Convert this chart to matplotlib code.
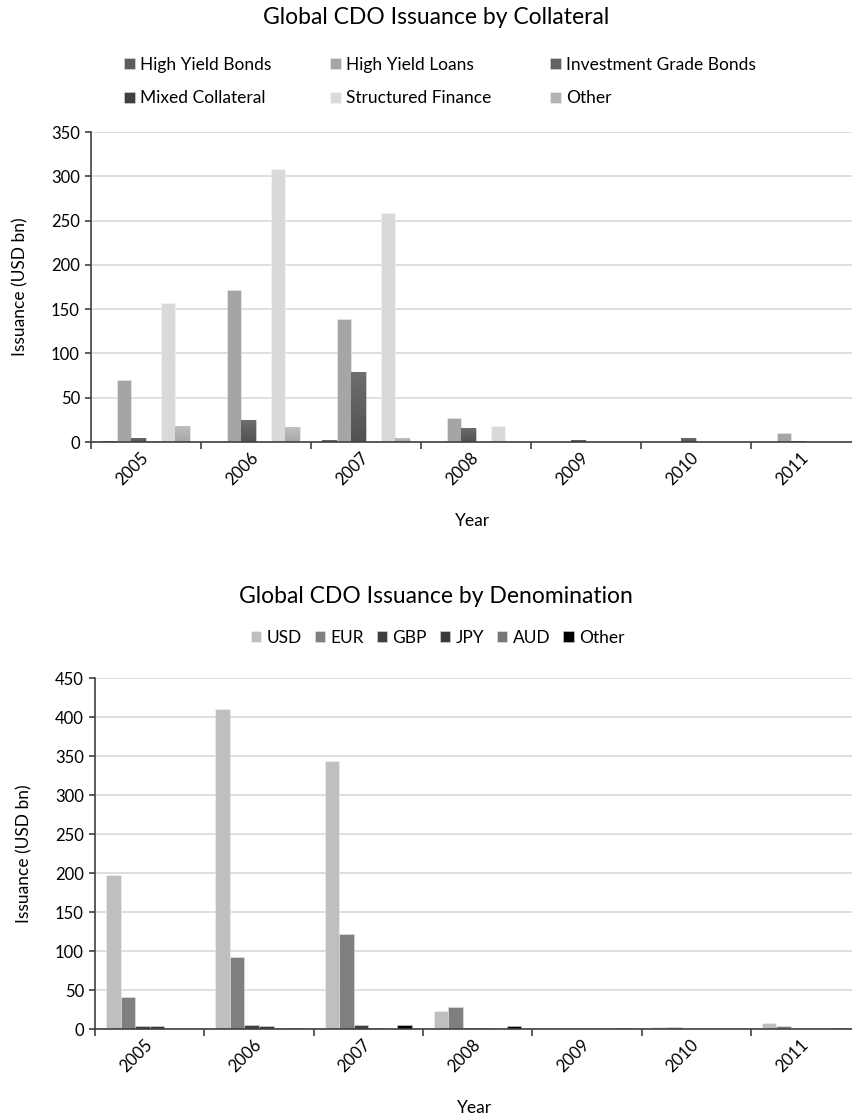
import numpy as np
import matplotlib
matplotlib.use("Agg")
import matplotlib.pyplot as plt
from matplotlib.colors import LinearSegmentedColormap
from matplotlib.ticker import FixedLocator, NullFormatter
from matplotlib.transforms import ScaledTranslation

plt.rcParams['font.family'] = ['Lato', 'DejaVu Sans']

years = ['2005', '2006', '2007', '2008', '2009', '2010', '2011']

# issuance by collateral type (USD bn)
collateral_names = ['High Yield Bonds', 'High Yield Loans', 'Investment Grade Bonds',
                    'Mixed Collateral', 'Structured Finance', 'Other']
high_yield_bonds = [1, 0.5, 2, 0, 0, 0, 0]
high_yield_loans = [70, 172, 139, 27, 1.5, 0.5, 10]
inv_grade_bonds = [5, 25, 79, 16, 2.5, 4.5, 1.5]
mixed_collateral = [1, 0, 0, 0, 0, 0, 0]
structured_finance = [157, 308, 259, 18.5, 0, 0.5, 0.5]
other_collateral = [18.5, 16.5, 4, 0, 0, 0, 0]

# issuance by currency of denomination (USD bn)
currency_names = ['USD', 'EUR', 'GBP', 'JPY', 'AUD', 'Other']
usd = [198, 411, 344, 24, 1.5, 3, 8]
eur = [41, 92, 122, 28.5, 0, 3.5, 4]
gbp = [4, 5.5, 5.5, 2, 0, 0, 0.5]
jpy = [4.5, 4.5, 2, 1, 0, 0, 0]
aud = [0, 2, 0.5, 0, 0, 0, 0]
other_ccy = [0.5, 2, 5.5, 4.5, 1, 0, 1]

collateral_colors = ['#5e5e5e', '#a5a5a5', '#636363', '#404040', '#d9d9d9', '#b4b4b4']
# bars with a vertical fill gradient: index -> (top, bottom)
collateral_grad = {0: ('#6e6e6e', '#505050'), 2: ('#6e6e6e', '#525252'),
                   5: ('#c0c0c0', '#a6a6a6')}
currency_colors = ['#bfbfbf', '#7f7f7f', '#3f3f3f', '#3a3a3a', '#777777', '#000000']

BAR_W = 0.1333


def shade(ax, bars, c_top, c_bot):
    cmap = LinearSegmentedColormap.from_list('g', [c_bot, c_top])
    grad = np.linspace(0, 1, 64).reshape(-1, 1)
    for b in bars:
        h = b.get_height()
        if h <= 0:
            continue
        x0 = b.get_x()
        im = ax.imshow(grad, cmap=cmap, origin='lower', aspect='auto',
                       extent=(x0, x0 + b.get_width(), 0, h),
                       interpolation='bilinear', zorder=b.get_zorder())
        im.set_clip_path(b)


def grouped(ax, series, colors, names, grad=None):
    x = np.arange(len(years))
    handles = []
    for i, (vals, col, name) in enumerate(zip(series, colors, names)):
        pos = x - 0.4 + BAR_W * (i + 0.5)
        bars = ax.bar(pos, vals, BAR_W, color=col, label=name, zorder=2,
                      edgecolor=(1, 1, 1, 0.35), linewidth=0.7)
        if grad and i in grad:
            shade(ax, bars, *grad[i])
        handles.append(bars)
    return handles


def style(ax, ymax, step, right):
    ax.set_xlim(-0.5, right)
    ax.set_ylim(0, ymax)
    ax.set_yticks(np.arange(0, ymax + 1, step))
    ax.yaxis.grid(True, color='#d9d9d9', linewidth=1.2, zorder=0)
    ax.set_axisbelow(True)
    for s in ['top', 'right']:
        ax.spines[s].set_visible(False)
    for s in ['left', 'bottom']:
        ax.spines[s].set_color('#404040')
        ax.spines[s].set_linewidth(1.2)
    # tick marks on category boundaries, labels in the middle
    ax.xaxis.set_major_locator(FixedLocator(np.arange(-0.5, 7, 1.0)))
    ax.xaxis.set_major_formatter(NullFormatter())
    ax.xaxis.set_minor_locator(FixedLocator(np.arange(7)))
    ax.set_xticks(np.arange(7), years, minor=True)
    ax.tick_params(axis='x', which='major', length=5, width=1.2, color='#404040')
    ax.tick_params(axis='x', which='minor', length=0, pad=6, labelsize=12)
    shift = ScaledTranslation(0.0, -0.05, ax.figure.dpi_scale_trans)
    for lbl in ax.get_xticklabels(minor=True):
        lbl.set_rotation(45)
        lbl.set_ha('right')
        lbl.set_va('center')
        lbl.set_rotation_mode('anchor')
        lbl.set_transform(lbl.get_transform() + shift)
    ax.tick_params(axis='y', length=4, width=1.2, color='#404040', labelsize=12, pad=4)
    ax.set_xlabel('Year', fontsize=12.5, labelpad=18)
    ax.set_ylabel('Issuance (USD bn)', fontsize=12.5, labelpad=16)


fig = plt.figure(figsize=(8.53, 11.19), dpi=100)

ax1 = fig.add_axes([0.1067, 0.6050, 0.8933, 0.2770])
h1 = grouped(ax1, [high_yield_bonds, high_yield_loans, inv_grade_bonds,
                   mixed_collateral, structured_finance, other_collateral],
             collateral_colors, collateral_names, collateral_grad)
style(ax1, 350, 50, 6.427)
fig.text(0.511, 0.984, 'Global CDO Issuance by Collateral', ha='center', va='center', fontsize=16.5)
# legend reads across rows, so reorder for matplotlib's column-first fill
order = [0, 3, 1, 4, 2, 5]
fig.legend([h1[i] for i in order], [collateral_names[i] for i in order],
           ncol=3, loc='center', bbox_to_anchor=(0.516, 0.927), frameon=False,
           fontsize=12.5, handlelength=0.6, handleheight=0.6, handletextpad=0.3,
           columnspacing=3.4, labelspacing=1.0)

ax2 = fig.add_axes([0.1114, 0.0802, 0.8886, 0.3137])
h2 = grouped(ax2, [usd, eur, gbp, jpy, aud, other_ccy], currency_colors, currency_names)
style(ax2, 450, 50, 6.435)
fig.text(0.511, 0.4665, 'Global CDO Issuance by Denomination', ha='center', va='center', fontsize=16.5)
fig.legend(h2, currency_names, ncol=6, loc='center', bbox_to_anchor=(0.513, 0.430),
           frameon=False, fontsize=12.5, handlelength=0.6, handleheight=0.6,
           handletextpad=0.3, columnspacing=0.75)

fig.savefig('out.png', dpi=100)
